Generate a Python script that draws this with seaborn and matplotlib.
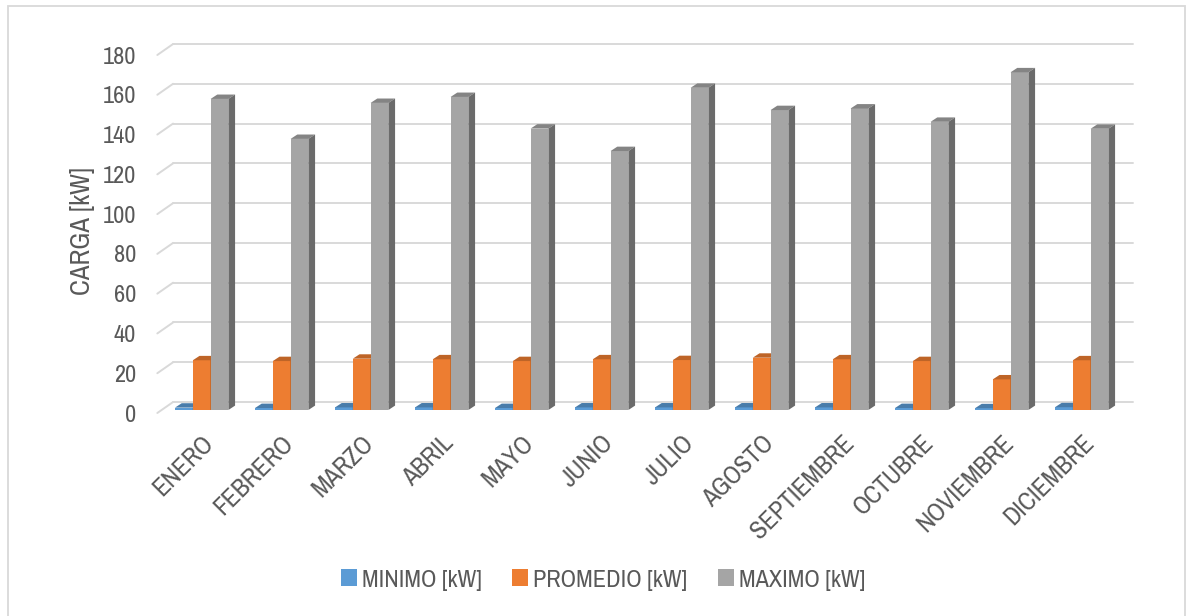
import matplotlib
matplotlib.use("Agg")
import matplotlib.pyplot as plt
import matplotlib.transforms as mtransforms
from matplotlib.patches import Polygon, Rectangle
from matplotlib.lines import Line2D
from matplotlib.colors import to_rgb
import pandas as pd
import seaborn as sns

# ---- data ----
meses = ["ENERO", "FEBRERO", "MARZO", "ABRIL", "MAYO", "JUNIO", "JULIO",
         "AGOSTO", "SEPTIEMBRE", "OCTUBRE", "NOVIEMBRE", "DICIEMBRE"]
minimo = [1.2, 1.0, 1.3, 1.3, 1.0, 1.3, 1.3, 1.3, 1.3, 1.0, 0.9, 1.4]
promedio = [25.0, 24.6, 25.8, 25.5, 24.6, 25.5, 25.1, 26.3, 25.5, 24.6, 15.4, 25.0]
maximo = [156.4, 136.3, 154.4, 157.4, 141.5, 130.2, 162.0, 150.8, 151.6, 144.9, 169.8, 141.4]
series = ["MINIMO [kW]", "PROMEDIO [kW]", "MAXIMO [kW]"]
colores = ["#5B9BD5", "#ED7D31", "#A5A5A5"]
yticks = [0, 20, 40, 60, 80, 100, 120, 140, 160, 180]

df = pd.DataFrame({
    "mes": meses * 3,
    "serie": [s for s in series for _ in meses],
    "valor": minimo + promedio + maximo,
})

sns.set_theme(style="white")
plt.rcParams["font.family"] = ["Pragati Narrow", "PT Sans Narrow", "Archivo Narrow", "DejaVu Sans"]
TXT = "#595959"
GRID = "#d9d9d9"

W, H = 1186, 616
fig = plt.figure(figsize=(W / 100, H / 100), dpi=100)
fig.patch.set_facecolor("white")

# axes = plane of the bar fronts (pixel box measured from the top-left corner)
left, right, top, bottom = 161.7, 1121.7, 52.0, 410.0
ax = fig.add_axes([left / W, (H - bottom) / H, (right - left) / W, (bottom - top) / H])
ax.patch.set_alpha(0)

sns.barplot(data=df, x="mes", y="valor", hue="serie", palette=colores,
            width=0.667, saturation=1, errorbar=None, legend=False,
            linewidth=0, ax=ax)
ax.set_xlim(-0.5, 11.5)
ax.set_ylim(0, 180)
for s in ax.spines.values():
    s.set_visible(False)
ax.grid(False)
ax.set_xlabel("")

# depth offsets in pixels (x right, y up)
BACK = (11.4, 8.0)     # back wall relative to bar plane
FRONT = (-4.4, -3.0)   # floor front edge relative to bar plane
DEPTH = (6.7, 4.4)     # extrusion depth of each bar

back_tr = mtransforms.offset_copy(ax.transData, fig=fig, x=BACK[0], y=BACK[1], units="dots")
ident = mtransforms.IdentityTransform()

# gridlines on the back wall plus the short diagonal on the left side wall
for v in yticks:
    ax.add_line(Line2D([-0.5, 11.5], [v, v], transform=back_tr, color=GRID,
                       lw=1.4, zorder=1, clip_on=False))
    px, py = ax.transData.transform((-0.5, v))
    ax.add_line(Line2D([px + FRONT[0], px + BACK[0]], [py + FRONT[1], py + BACK[1]],
                       transform=ident, color=GRID, lw=1.4, zorder=1, clip_on=False))

# 3-D look: top and side faces for every bar, painted left to right
bars = sorted(ax.patches, key=lambda p: p.get_x())
for k, p in enumerate(bars):
    base = to_rgb(p.get_facecolor())
    z = 3 + k * 0.01
    p.set_zorder(z)
    x0, x1 = p.get_x(), p.get_x() + p.get_width()
    h = p.get_height()
    (ax0, ay0) = ax.transData.transform((x0, 0))
    (ax1, ah) = ax.transData.transform((x1, h))
    dx, dy = DEPTH
    top_face = [(ax0, ah), (ax1, ah), (ax1 + dx, ah + dy), (ax0 + dx, ah + dy)]
    side_face = [(ax1, ay0), (ax1, ah), (ax1 + dx, ah + dy), (ax1 + dx, ay0 + dy)]
    ax.add_patch(Polygon(top_face, closed=True, transform=ident, clip_on=False,
                         facecolor=tuple(c * 0.80 for c in base), lw=0, zorder=z + 0.003))
    ax.add_patch(Polygon(side_face, closed=True, transform=ident, clip_on=False,
                         facecolor=tuple(c * 0.65 for c in base), lw=0, zorder=z + 0.006))

# y ticks, placed on the front edge of the floor
ax.set_yticks(yticks)
ax.set_yticklabels([str(v) for v in yticks])
ax.tick_params(axis="y", length=0, pad=18.5, labelsize=19, labelcolor=TXT)
shift = mtransforms.ScaledTranslation(0, FRONT[1] / 100, fig.dpi_scale_trans)
for lab in ax.get_yticklabels():
    lab.set_transform(lab.get_transform() + shift)

# month labels
ax.tick_params(axis="x", length=0, pad=15.0, labelsize=20, labelcolor=TXT)
ax.set_xticks(range(len(meses)))
ax.set_xticklabels(meses, rotation=45, ha="right", rotation_mode="anchor")

ax.set_ylabel("CARGA [kW]", fontsize=21, color=TXT)
ax.yaxis.set_label_coords((95 - left) / (right - left), 0.5)

# legend
handles = [Rectangle((0, 0), 1, 1, facecolor=c, lw=0) for c in colores]
fig.legend(handles, series, loc="center", bbox_to_anchor=(603 / W, 1 - 580 / H),
           ncol=3, frameon=False, fontsize=19, labelcolor=TXT,
           handlelength=0.6, handleheight=0.6, handletextpad=0.2,
           columnspacing=1.15)

# chart frame
fig.patches.append(Rectangle((8 / W, -0.05), (1185 - 8) / W, (H - 6) / H + 0.05,
                             transform=fig.transFigure, fill=False,
                             edgecolor=GRID, lw=1.3))

fig.savefig("out.png", dpi=100)
